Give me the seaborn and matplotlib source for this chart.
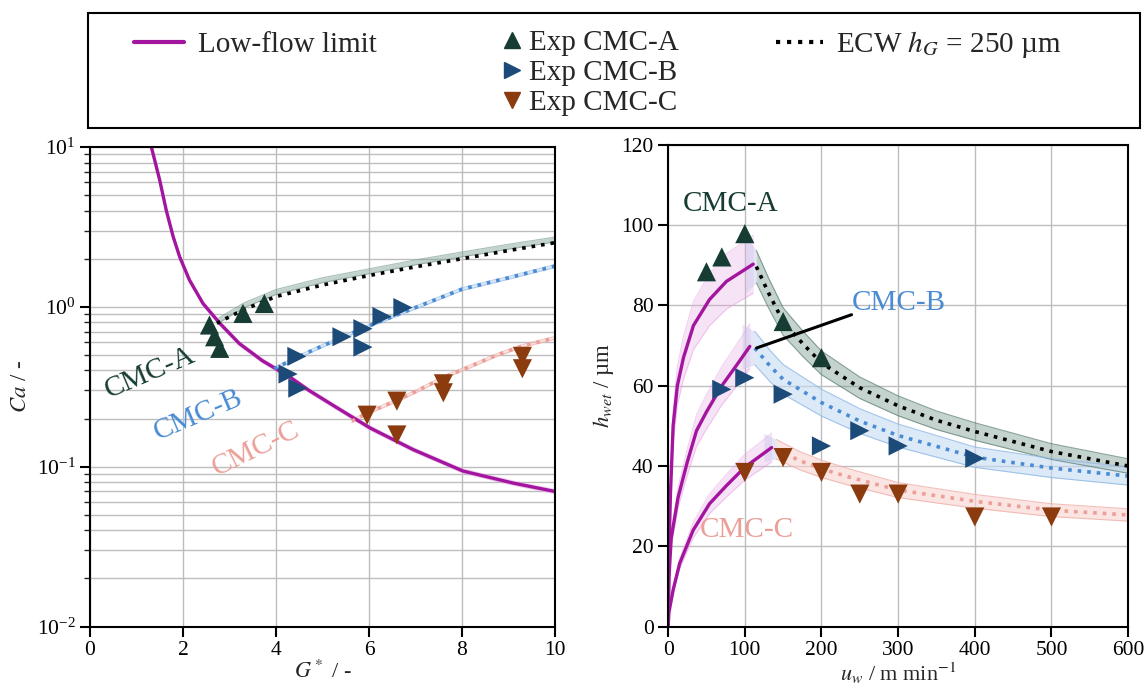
import numpy as np
import pandas as pd
import matplotlib
matplotlib.use('Agg')
import matplotlib.pyplot as plt
from matplotlib.lines import Line2D
from matplotlib.patches import Rectangle
import seaborn as sns

# ---------------- left panel: Ca vs G* ----------------
G_lowflow = [1.32, 1.41, 1.50, 1.64, 1.79, 1.93, 2.14, 2.43, 2.79, 3.21, 3.71, 4.29, 4.71,
             5.3, 6.02, 6.95, 8.02, 9.1, 10.0]
Ca_lowflow = [10.0, 7.87, 6.19, 4.02, 2.74, 2.05, 1.47, 1.05, 0.79, 0.59, 0.46, 0.365, 0.30,
              0.235, 0.175, 0.128, 0.094, 0.079, 0.070]

G_model_A = [2.73, 3.3, 4.0, 5.0, 6.0, 7.0, 8.0, 9.0, 10.0]
Ca_model_A = [0.81, 1.02, 1.24, 1.47, 1.67, 1.90, 2.13, 2.38, 2.64]
Ca_ecw_A = [0.79, 0.96, 1.16, 1.37, 1.57, 1.78, 2.00, 2.25, 2.52]

G_model_B = [3.96, 4.5, 5.0, 6.0, 7.0, 8.0, 9.0, 10.0]
Ca_model_B = [0.41, 0.49, 0.57, 0.76, 0.99, 1.29, 1.52, 1.80]

G_model_C = [5.63, 6.0, 6.6, 7.0, 7.68, 8.2, 8.75, 9.3, 10.0]
Ca_model_C = [0.193, 0.219, 0.26, 0.295, 0.37, 0.427, 0.50, 0.569, 0.64]

G_exp_A = [2.57, 2.68, 2.79, 3.29, 3.75]
Ca_exp_A = [0.77, 0.65, 0.55, 0.91, 1.05]
G_exp_B = [4.26, 4.45, 4.47, 5.42, 5.87, 5.87, 6.28, 6.73]
Ca_exp_B = [0.38, 0.49, 0.31, 0.65, 0.73, 0.56, 0.87, 0.99]
G_exp_C = [5.96, 6.6, 6.6, 7.6, 7.6, 9.3, 9.3]
Ca_exp_C = [0.21, 0.257, 0.158, 0.33, 0.29, 0.49, 0.41]

# ---------------- right panel: h_wet vs u_w ----------------
u_lowflow_A = [0, 1, 3, 6.5, 12, 20, 33, 54, 76, 111]
h_lowflow_A = [0, 18, 33, 50, 60, 67, 75, 81.5, 86, 90.3]
u_lowflow_B = [0, 1, 4, 13, 25, 37, 50, 70, 90, 106.5]
h_lowflow_B = [0, 12, 22, 32.2, 41, 48.8, 53.5, 60, 65.3, 69.8]
u_lowflow_C = [0, 1, 6.5, 15, 32.6, 54, 76, 100, 135]
h_lowflow_C = [0, 3.5, 9.1, 15.7, 24, 30.6, 35.1, 39.7, 44.6]

u_ecw_A = [115, 131, 150, 176, 200, 250, 300, 350, 400, 500, 600]
h_ecw_A = [89.7, 83.1, 76.0, 70.4, 65.7, 59.5, 55.0, 51.4, 48.6, 43.6, 40.0]
u_ecw_B = [113, 133, 150, 200, 250, 300, 400, 500, 600]
h_ecw_B = [69.4, 64.9, 61.6, 55.8, 51.2, 47.6, 42.2, 39.5, 37.5]
u_ecw_C = [141, 172, 200, 235, 300, 400, 500, 600]
h_ecw_C = [44.2, 41.3, 39.3, 37.3, 34.0, 31.2, 29.0, 27.8]

u_exp_A = [50, 70, 100, 150, 200]
h_exp_A = [88.4, 92.1, 97.9, 76.0, 67.0]
u_exp_B = [70, 100, 150, 200, 250, 300, 400]
h_exp_B = [59.1, 62.0, 57.9, 45.0, 48.8, 45.0, 41.9]
u_exp_C = [100, 150, 200, 250, 300, 400, 500]
h_exp_C = [38.4, 42.1, 38.4, 33.0, 33.0, 27.3, 27.3]

# relative model uncertainty
rel_band_left = 0.035
rel_band_lowflow = 0.08
rel_band_A = 0.045
rel_band_B = 0.06
rel_band_C = 0.055

# colours
magenta = '#a3159e'
pink = '#e7a3e4'
col_A = '#163c33'
col_B = '#1c4b7a'
col_C = '#8b3b0d'
light_B = '#4a8bd4'
light_C = '#eb9f98'
band_A = '#7d9f94'

sns.set_theme(style='ticks')
plt.rcParams['font.family'] = ['Liberation Serif', 'DejaVu Serif']
plt.rcParams['mathtext.fontset'] = 'stix'
plt.rcParams['axes.edgecolor'] = 'black'
plt.rcParams['axes.linewidth'] = 1.5

fig = plt.figure(figsize=(11.48, 6.87), dpi=100)
ax1 = fig.add_axes([0.0784, 0.088, 0.405, 0.698])
ax2 = fig.add_axes([0.582, 0.088, 0.4007, 0.701])

grid_kw = dict(color='#bdbdbd', linewidth=1.0)


def band(ax, x, y, rel, face, edge, alpha):
    y = np.asarray(y)
    ax.fill_between(x, y * (1 - rel), y * (1 + rel), color=face, alpha=alpha, lw=0)
    ax.plot(x, y * (1 - rel), color=edge, lw=0.8, alpha=alpha + 0.2)
    ax.plot(x, y * (1 + rel), color=edge, lw=0.8, alpha=alpha + 0.2)


# ---- left ----
band(ax1, G_model_A, Ca_model_A, rel_band_left, band_A, band_A, 0.45)
band(ax1, G_model_B, Ca_model_B, rel_band_left * 0.6, '#b9d3f0', '#9cc0e8', 0.5)
band(ax1, G_model_C, Ca_model_C, rel_band_left * 0.6, '#f6cdca', '#f0b4ae', 0.5)
band(ax1, G_lowflow, Ca_lowflow, 0.03, pink, pink, 0.3)
sns.lineplot(x=G_lowflow, y=Ca_lowflow, ax=ax1, color=magenta, lw=2.4, sort=False, estimator=None)
sns.lineplot(x=G_model_A, y=Ca_ecw_A, ax=ax1, color='black', lw=2.6, ls=':', sort=False, estimator=None)
sns.lineplot(x=G_model_B, y=Ca_model_B, ax=ax1, color=light_B, lw=2.6, ls=':', sort=False, estimator=None)
sns.lineplot(x=G_model_C, y=Ca_model_C, ax=ax1, color=light_C, lw=2.6, ls=':', sort=False, estimator=None)

sns.scatterplot(x=G_exp_A, y=Ca_exp_A, ax=ax1, marker='^', s=190, color=col_A, edgecolor='none', zorder=5)
sns.scatterplot(x=G_exp_B, y=Ca_exp_B, ax=ax1, marker='>', s=190, color=col_B, edgecolor='none', zorder=5)
sns.scatterplot(x=G_exp_C, y=Ca_exp_C, ax=ax1, marker='v', s=190, color=col_C, edgecolor='none', zorder=5)

ax1.text(1.30, 0.385, 'CMC-A', color=col_A, fontsize=21, rotation=23, ha='center', va='center')
ax1.text(2.32, 0.211, 'CMC-B', color=light_B, fontsize=21, rotation=23, ha='center', va='center')
ax1.text(3.57, 0.128, 'CMC-C', color=light_C, fontsize=21, rotation=26, ha='center', va='center')

ax1.set_yscale('log')
ax1.set_xlim(0, 10)
ax1.set_ylim(1e-2, 1e1)
ax1.set_xticks([0, 2, 4, 6, 8, 10])
ax1.set_axisbelow(True)
ax1.grid(True, which='major', axis='x', **grid_kw)
ax1.grid(True, which='both', axis='y', **grid_kw)
ax1.set_xlabel(r'$G^*$ / -', fontsize=16, labelpad=0)
ax1.set_ylabel(r'$Ca$ / -', fontsize=16.5)

# ---- right ----
for u_lf, h_lf, u_d, h_d, r in [(u_lowflow_A, h_lowflow_A, u_ecw_A, h_ecw_A, rel_band_A),
                                (u_lowflow_B, h_lowflow_B, u_ecw_B, h_ecw_B, rel_band_B),
                                (u_lowflow_C, h_lowflow_C, u_ecw_C, h_ecw_C, rel_band_C)]:
    band(ax2, u_lf, h_lf, rel_band_lowflow, pink, pink, 0.3)
    # joint between low-flow limit and the ECW model
    ax2.fill_between([u_lf[-1] - 10, u_d[0]],
                     [h_lf[-1] * (1 - rel_band_lowflow), h_d[0] * (1 - r)],
                     [h_lf[-1] * (1 + rel_band_lowflow), h_d[0] * (1 + r)],
                     color='#cfcdf0', alpha=0.5, lw=0)

band(ax2, u_ecw_A, h_ecw_A, rel_band_A, band_A, '#4f7569', 0.45)
band(ax2, u_ecw_B, h_ecw_B, rel_band_B, '#c6dbf3', '#8db8e6', 0.6)
band(ax2, u_ecw_C, h_ecw_C, rel_band_C, '#f8d4d0', '#f0b0aa', 0.6)

for u_lf, h_lf in [(u_lowflow_A, h_lowflow_A), (u_lowflow_B, h_lowflow_B), (u_lowflow_C, h_lowflow_C)]:
    sns.lineplot(x=u_lf, y=h_lf, ax=ax2, color=magenta, lw=2.4, sort=False, estimator=None)

sns.lineplot(x=u_ecw_A, y=h_ecw_A, ax=ax2, color='black', lw=2.6, ls=':', sort=False, estimator=None)
sns.lineplot(x=u_ecw_B, y=h_ecw_B, ax=ax2, color=light_B, lw=2.6, ls=':', sort=False, estimator=None)
sns.lineplot(x=u_ecw_C, y=h_ecw_C, ax=ax2, color=light_C, lw=2.6, ls=':', sort=False, estimator=None)

sns.scatterplot(x=u_exp_A, y=h_exp_A, ax=ax2, marker='^', s=190, color=col_A, edgecolor='none', zorder=5)
sns.scatterplot(x=u_exp_B, y=h_exp_B, ax=ax2, marker='>', s=190, color=col_B, edgecolor='none', zorder=5)
sns.scatterplot(x=u_exp_C, y=h_exp_C, ax=ax2, marker='v', s=190, color=col_C, edgecolor='none', zorder=5)

ax2.plot([115.3, 239.2], [69.4, 77.7], color='black', lw=2.2, zorder=6)
ax2.text(81.4, 105.4, 'CMC-A', color=col_A, fontsize=21, ha='center', va='center')
ax2.text(240, 80.6, 'CMC-B', color=light_B, fontsize=21, ha='left', va='center')
ax2.text(103, 24, 'CMC-C', color=light_C, fontsize=21, ha='center', va='center')

ax2.set_xlim(0, 600)
ax2.set_ylim(0, 120)
ax2.set_xticks(range(0, 601, 100))
ax2.set_yticks(range(0, 121, 20))
ax2.set_axisbelow(True)
ax2.grid(True, **grid_kw)
ax2.set_xlabel(r'$u_w$ / m min$^{-1}$', fontsize=16, labelpad=0)
ax2.set_ylabel(r'$h_{wet}$ / µm', fontsize=16.5)

for ax in (ax1, ax2):
    ax.tick_params(which='major', direction='out', length=7, width=1.5, labelsize=15.5, colors='black')
    ax.tick_params(which='minor', direction='out', length=4, width=1.0)
    for sp in ax.spines.values():
        sp.set_visible(True)
        sp.set_color('black')
        sp.set_linewidth(1.5)

# ---- legend box on top ----
fig.patches.append(Rectangle((88 / 1148, 1 - 128 / 687), (1140 - 88) / 1148, 115 / 687,
                             transform=fig.transFigure, fill=False, edgecolor='black', lw=1.5))
leg_fs = 21
h_low = [Line2D([], [], color=magenta, lw=3)]
fig.legend(h_low, ['Low-flow limit'], loc='center left', bbox_to_anchor=(134 / 1148, 1 - 45 / 687),
           frameon=False, fontsize=leg_fs, handlelength=1.7, handletextpad=0.5, borderpad=0, borderaxespad=0)
h_exp = [Line2D([], [], ls='none', marker='^', ms=11, color=col_A),
         Line2D([], [], ls='none', marker='>', ms=11, color=col_B),
         Line2D([], [], ls='none', marker='v', ms=11, color=col_C)]
fig.legend(h_exp, ['Exp CMC-A', 'Exp CMC-B', 'Exp CMC-C'], loc='center left',
           bbox_to_anchor=(503 / 1148, 1 - 73 / 687), frameon=False, fontsize=leg_fs,
           handlelength=0.6, handletextpad=0.3, labelspacing=0.12, borderpad=0, borderaxespad=0)
h_ecw = [Line2D([], [], color='black', lw=3, ls=':')]
fig.legend(h_ecw, [r'ECW $h_G$ = 250 µm'], loc='center left', bbox_to_anchor=(776 / 1148, 1 - 45 / 687),
           frameon=False, fontsize=leg_fs, handlelength=1.6, handletextpad=0.45, borderpad=0, borderaxespad=0)

fig.savefig('out.png', dpi=100)
